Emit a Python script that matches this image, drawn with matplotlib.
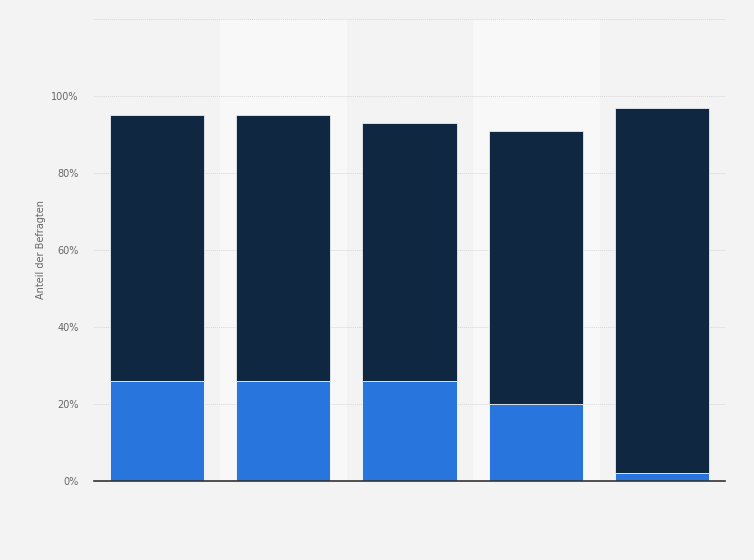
import matplotlib
matplotlib.use("Agg")
import matplotlib.pyplot as plt
from matplotlib.ticker import FuncFormatter

categories = ["A", "B", "C", "D", "E"]
share_low = [26, 26, 26, 20, 2]
share_high = [69, 69, 67, 71, 95]
y_ticks = [0, 20, 40, 60, 80, 100, 120]


def pct_formatter(y, pos):
    """Percent labels, leaving the top gridline unlabelled."""
    if y > 100:
        return ""
    return f"{int(y)}%"


def main():
    fig = plt.figure(figsize=(7.54, 5.6), dpi=100)
    fig.patch.set_facecolor("#f3f3f3")
    ax = fig.add_axes([0.1247, 0.1411, 0.8368, 0.8250])
    ax.set_facecolor("#f3f3f3")

    x = list(range(len(categories)))
    for i in x:
        if i % 2 == 1:
            ax.axvspan(i - 0.5, i + 0.5, color="#f8f8f8", zorder=0)

    ax.bar(x, share_low, width=0.745, color="#2876dd",
           edgecolor="#ffffff", linewidth=0.6, zorder=3)
    ax.bar(x, share_high, bottom=share_low, width=0.745, color="#0f2740",
           edgecolor="#e8ecf0", linewidth=0.6, zorder=3)

    ax.set_xlim(-0.5, len(categories) - 0.5)
    ax.set_ylim(0, 120)
    ax.set_yticks(y_ticks)
    ax.yaxis.set_major_formatter(FuncFormatter(pct_formatter))
    ax.set_xticks([])
    ax.grid(axis="y", color="#d6d6d6", linestyle=(0, (1, 1)), linewidth=0.7,
            zorder=1)
    ax.tick_params(axis="y", length=0, labelsize=7, labelcolor="#666666",
                   pad=11)

    for side in ["top", "right", "left"]:
        ax.spines[side].set_visible(False)
    ax.spines["bottom"].set_color("#333333")
    ax.spines["bottom"].set_linewidth(1.2)
    ax.spines["bottom"].set_zorder(4)

    ax.set_ylabel("Anteil der Befragten", fontsize=7, color="#666666",
                  labelpad=4)

    fig.savefig("out.png", dpi=100, facecolor=fig.get_facecolor())


if __name__ == "__main__":
    main()
